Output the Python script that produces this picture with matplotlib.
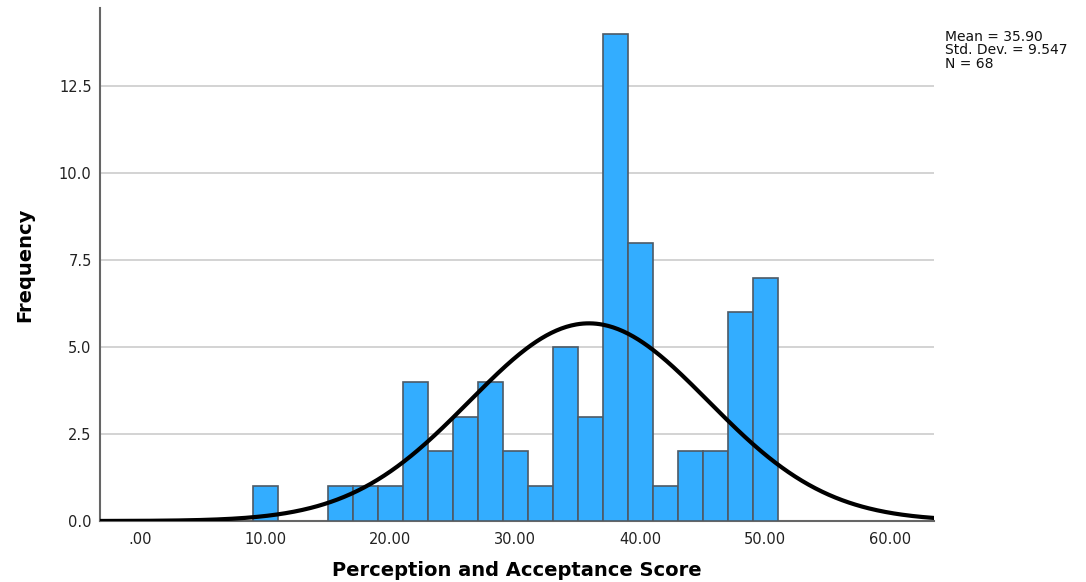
import numpy as np
import matplotlib
matplotlib.use("Agg")
import matplotlib.pyplot as plt

# Histogram data (bin edges, width 2)
bin_left = [9, 15, 17, 19, 21, 23, 25, 27, 29, 31, 33, 35, 37, 39, 41, 43, 45, 47, 49]
counts = [1, 1, 1, 1, 4, 2, 3, 4, 2, 1, 5, 3, 14, 8, 1, 2, 2, 6, 7]
bin_width = 2
mean = 35.90
std = 9.547
n = 68
xticks = [0, 10, 20, 30, 40, 50, 60]
xticklabels = [".00", "10.00", "20.00", "30.00", "40.00", "50.00", "60.00"]
yticks = [0, 2.5, 5.0, 7.5, 10.0, 12.5]

fig = plt.figure(figsize=(10.86, 5.82), dpi=100)
ax = fig.add_axes([100/1086, 1-521/582, (934-100)/1086, (521-8)/582])

ax.bar(bin_left, counts, width=bin_width, align="edge", color="#33adff",
       edgecolor="#4d5a66", linewidth=1.2, zorder=3)

xs = np.linspace(-3.2, 63.5, 500)
ys = n * bin_width / (std * np.sqrt(2 * np.pi)) * np.exp(-0.5 * ((xs - mean) / std) ** 2)
ax.plot(xs, ys, color="black", linewidth=3, zorder=4, solid_capstyle="round")

ax.set_xlim(-3.2, 63.5)
ax.set_ylim(0, 14.75)
ax.set_xticks(xticks)
ax.set_xticklabels(xticklabels)
ax.set_yticks(yticks)
ax.set_yticklabels([f"{v:.1f}" for v in yticks])
ax.tick_params(length=0, labelsize=10.5, colors="#222222", pad=6)
ax.tick_params(axis="x", pad=8)
ax.yaxis.grid(True, color="#cccccc", linewidth=1.2, zorder=0)
ax.set_axisbelow(True)
for s in ["top", "right"]:
    ax.spines[s].set_visible(False)
for s in ["left", "bottom"]:
    ax.spines[s].set_color("#666666")
    ax.spines[s].set_linewidth(1.5)

ax.set_xlabel("Perception and Acceptance Score", fontsize=14, fontweight="bold")
ax.xaxis.set_label_coords(0.5, (521-570)/513, transform=ax.transAxes)
ax.xaxis.label.set_va("center")
ax.set_ylabel("Frequency", fontsize=14, fontweight="bold")
ax.yaxis.set_label_coords((25-100)/834, 0.5, transform=ax.transAxes)
ax.yaxis.label.set_va("center")

fig.text(945/1086, 1-30/582, f"Mean = {mean:.2f}\nStd. Dev. = {std:.3f}\nN = {n}",
         fontsize=10, va="top", ha="left", linespacing=0.95, color="#111111")

fig.savefig("out.png", dpi=100)
